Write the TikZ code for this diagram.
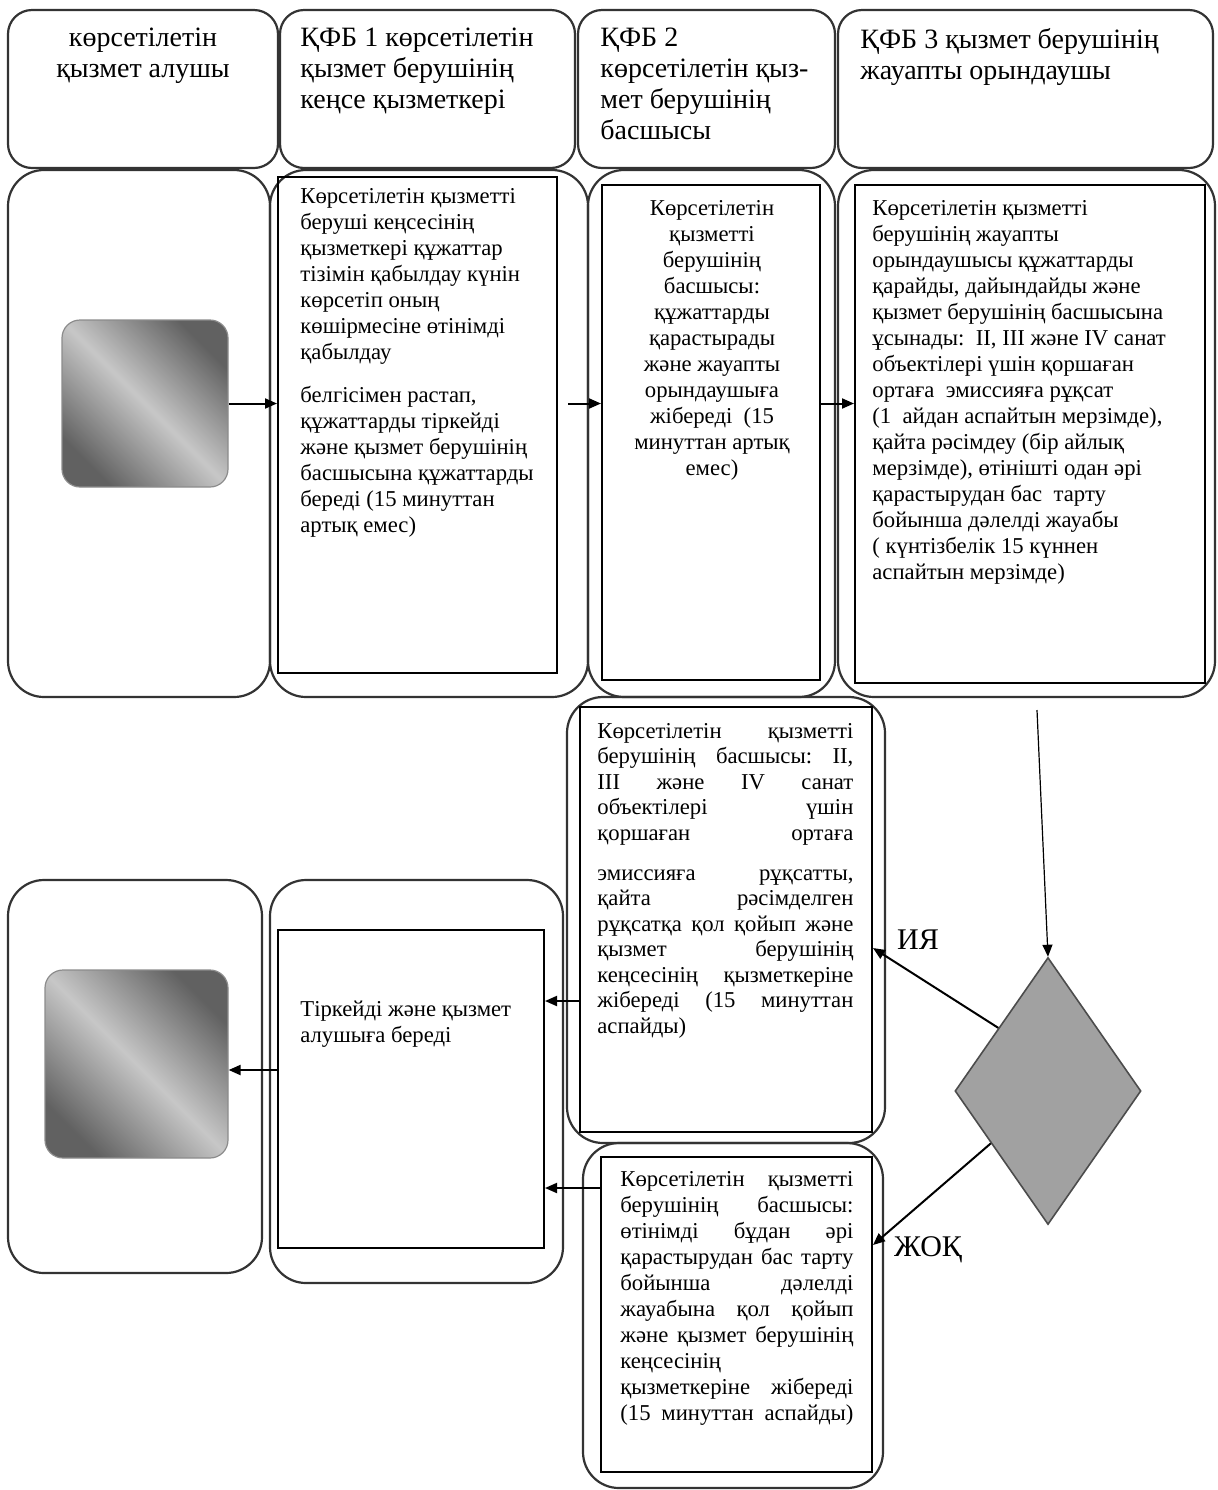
\documentclass[tikz,border=0pt]{standalone}
\usepackage{fontspec}
\setmainfont{Liberation Serif}
\usetikzlibrary{shapes.geometric,arrows.meta,fit,calc}
\begin{document}
\begin{tikzpicture}[x=0.5pt,y=-0.5pt,
  lane/.style={draw=black!80,line width=1.1pt,rounded corners=18pt,inner sep=0pt},
  hdr/.style={draw=black!80,line width=1.1pt,rounded corners=12pt,inner sep=0pt},
  inbox/.style={draw=black,line width=1pt,inner sep=0pt},
  gbox/.style={draw=black!45,line width=0.6pt,rounded corners=9pt,inner sep=0pt,shading=axis,top color=black!62,bottom color=black!62,middle color=black!22,shading angle=-45},
  htext/.style={inner sep=0pt,font=\fontsize{14pt}{15.5pt}\selectfont},
  btext/.style={inner sep=0pt,font=\fontsize{11.35pt}{13pt}\selectfont},
  jtext/.style={inner sep=0pt,font=\fontsize{11.35pt}{12.75pt}\selectfont,align=left},
  arr/.style={line width=1pt,-{Triangle[length=6pt,width=5pt]}},
  tarr/.style={line width=0.6pt,-{Triangle[length=6pt,width=5pt]}},
  lbl/.style={inner sep=0pt,font=\fontsize{15pt}{16pt}\selectfont},
]
\useasboundingbox (0,0) rectangle (1217,1490);
\newcommand\jl[1]{\makebox[\jw][l]{#1}}

% header row
\node[hdr,fit={(8,10) (278,168)}] (h1) {};
\node[hdr,fit={(280,10) (575,168)}] (h2) {};
\node[hdr,fit={(578,10) (835,168)}] (h3) {};
\node[hdr,fit={(838,10) (1213,168)}] (h4) {};
\node[htext,anchor=north,align=center] (h1t) at (143,28) {көрсетілетін\\қызмет алушы};
\node[htext,anchor=north west,align=left] (h2t) at (300,28) {ҚФБ 1 көрсетілетін\\қызмет берушінің\\кеңсе қызметкері};
\node[htext,anchor=north west,align=left] (h3t) at (600,28) {ҚФБ 2\\көрсетілетін қыз-\\мет берушінің\\басшысы};
\node[htext,anchor=north west,align=left] (h4t) at (860,28) {ҚФБ 3 қызмет берушінің\\жауапты орындаушы};

% lanes, row 2
\node[lane,fit={(8,170) (270,697)}] (l1) {};
\node[lane,fit={(270,170) (588,697)}] (l2) {};
\node[lane,fit={(588,170) (835,697)}] (l3) {};
\node[lane,fit={(838,170) (1215,697)}] (l4) {};
\node[inbox,fit={(278,177) (557,673)}] (i2) {};
\node[inbox,fit={(602,185) (820,680)}] (i3) {};
\node[inbox,fit={(855,185) (1205,683)}] (i4) {};
\node[gbox,fit={(62,320) (228,487)}] (start) {};

\node[btext,anchor=north west,align=left] (i2t) at (300,188) {Көрсетілетін қызметті\\беруші кеңсесінің\\қызметкері құжаттар\\тізімін қабылдау күнін\\көрсетіп оның\\көшірмесіне өтінімді\\қабылдау\\[8.5pt]белгісімен растап,\\құжаттарды тіркейді\\және қызмет берушінің\\басшысына құжаттарды\\береді (15 минуттан\\артық емес)};
\node[btext,anchor=north,align=center] (i3t) at (712,200) {Көрсетілетін\\қызметті\\берушінің\\басшысы:\\құжаттарды\\қарастырады\\және жауапты\\орындаушыға\\жібереді\ \ (15\\минуттан артық\\емес)};
\node[btext,anchor=north west,align=left] (i4t) at (872,200) {Көрсетілетін қызметті\\берушінің жауапты\\орындаушысы құжаттарды\\қарайды, дайындайды және\\қызмет берушінің басшысына\\ұсынады:\ \ II, III және IV санат\\объектілері үшін қоршаған\\ортаға\ \ эмиссияға рұқсат\\(1\ \ айдан аспайтын мерзімде),\\қайта рәсімдеу (бір айлық\\мерзімде), өтінішті одан әрі\\қарастырудан бас\ \ тарту\\бойынша дәлелді жауабы\\( күнтізбелік 15 күннен\\аспайтын мерзімде)};

% lower part
\node[lane,fit={(567,697) (885,1143)}] (m1) {};
\node[lane,fit={(583,1143) (883,1488)}] (m2) {};
\node[lane,fit={(8,880) (262,1273)}] (b1) {};
\node[lane,fit={(270,880) (563,1283)}] (b2) {};
\node[inbox,fit={(580,707) (872,1132)}] (mi1) {};
\node[inbox,fit={(601,1157) (872,1472)}] (mi2) {};
\node[inbox,fit={(278,930) (544,1248)}] (bi2) {};
\node[gbox,fit={(45,970) (228,1158)}] (endb) {};

\node[jtext,anchor=north west,text width=128pt] (mi1t) at (597,723) {\def\jw{128pt}\jl{Көрсетілетін\hfill қызметті}\\\jl{берушінің\hfill басшысы:\hfill II,}\\\jl{III\hfill және\hfill IV\hfill санат}\\\jl{объектілері\hfill үшін}\\\jl{қоршаған\hfill ортаға}\\[7.25pt]\jl{эмиссияға\hfill рұқсатты,}\\\jl{қайта\hfill рәсімделген}\\\jl{рұқсатқа\hfill қол\hfill қойып\hfill және}\\\jl{қызмет\hfill берушінің}\\\jl{кеңсесінің\hfill қызметкеріне}\\\jl{жібереді\hfill (15\hfill минуттан}\\аспайды)};
\node[jtext,anchor=north west,text width=116.5pt,font=\fontsize{11.35pt}{13pt}\selectfont] (mi2t) at (620,1171) {\def\jw{116.5pt}\jl{Көрсетілетін\hfill қызметті}\\\jl{берушінің\hfill басшысы:}\\\jl{өтінімді\hfill бұдан\hfill әрі}\\\jl{қарастырудан\hfill бас\hfill тарту}\\\jl{бойынша\hfill дәлелді}\\\jl{жауабына\hfill қол\hfill қойып}\\\jl{және\hfill қызмет\hfill берушінің}\\кеңсесінің\\\jl{қызметкеріне\hfill жібереді}\\\jl{(15\hfill минуттан\hfill аспайды)}};
\node[btext,anchor=north west,align=left] (bi2t) at (300,1001) {Тіркейді және қызмет\\алушыға береді};

\node[diamond,draw=black!70,fill=black!37,line width=0.8pt,minimum width=93pt,minimum height=133.5pt,inner sep=0pt] (dia) at (1048,1091) {};
\coordinate (vtop) at (1037,710);

% connectors
\draw[arr] (start.east) -- (i2.west |- start.east);
\draw[arr,shorten <=5pt] (i2.east |- start.east) -- (i3.west |- start.east);
\draw[arr] (i3.east |- start.east) -- (i4.west |- start.east);
\draw[tarr] (vtop) -- (dia.north);
\draw[arr] ($(dia.west)!0.47!(dia.north)$) -- (mi1.east |- 0,948);
\draw[arr] ($(dia.west)!0.39!(dia.south)$) -- (mi2.east |- 0,1245);
\draw[arr] (mi1.west |- 0,1001) -- (bi2.east |- 0,1001);
\draw[arr] (mi2.west |- 0,1188) -- (bi2.east |- 0,1188);
\draw[arr] (bi2.west |- 0,1070) -- (endb.east |- 0,1070);

\node[lbl] (iya) at (918,940) {ИЯ};
\node[lbl] (zhok) at (928,1250) {ЖОҚ};
\end{tikzpicture}
\end{document}
